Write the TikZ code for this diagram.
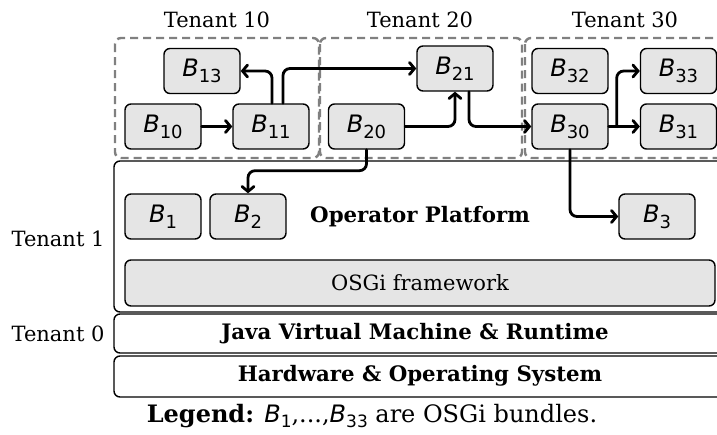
\documentclass[tikz,border=0pt]{standalone}
\usepackage{fontspec}
\setmainfont{DejaVu Serif}
\newfontfamily\bsans{DejaVu Sans}
\usetikzlibrary{arrows.meta,calc}
\newcommand{\Bn}[1]{{\bsans\itshape B}\raisebox{-0.25em}{\bsans\fontsize{18}{18}\selectfont #1}}
\newcommand{\Bl}[1]{{\bsans\itshape B}\raisebox{-0.2em}{\bsans\fontsize{17}{17}\selectfont #1}}
\begin{document}
\begin{tikzpicture}[x=1pt,y=-1pt,
  bundle/.style={draw=black,line width=1.4pt,fill=black!10,rounded corners=6pt,minimum width=76pt,minimum height=45pt,inner sep=0pt,font=\fontsize{24}{24}\selectfont},
  tenant/.style={draw=black!50,line width=2.4pt,dash pattern=on 8pt off 5pt,rounded corners=6pt},
  layer/.style={draw=black,line width=1.4pt,rounded corners=6pt},
  conn/.style={line width=2.8pt,rounded corners=7pt,-{Straight Barb[length=5pt,width=12pt,line cap=round]},line cap=round},
  lbl/.style={font=\fontsize{21}{21}\selectfont},
  blbl/.style={font=\fontsize{21.3}{21.3}\selectfont\bfseries},
  leglbl/.style={font=\fontsize{24}{24}\selectfont}]
\useasboundingbox (0,0) rectangle (717,434);
\clip (0,0) rectangle (717,434);
% tenant groups
\draw[tenant] (115,38) rectangle (319,158);
\draw[tenant] (320,38) rectangle (522,158);
\draw[tenant] (525,38) rectangle (740,158);
\node[lbl] (t10) at (217,20) {Tenant 10};
\node[lbl] (t20) at (420,20) {Tenant 20};
\node[lbl] (t30) at (625,20) {Tenant 30};
% layers
\draw[layer] (114,161) rectangle (740,312);
\draw[layer] (114,314) rectangle (740,353);
\draw[layer] (114,356) rectangle (740,397);
\node[draw=black,line width=1.4pt,fill=black!10,rounded corners=6pt,minimum width=590pt,minimum height=46pt,inner sep=0pt,lbl] (osgi) at (420,283) {OSGi framework};
\node[blbl] (op) at (420,217) {Operator Platform};
\node[blbl] (jvm) at (415,334) {Java Virtual Machine \& Runtime};
\node[blbl] (hw) at (420,376) {Hardware \& Operating System};
\node[lbl,anchor=east] (ten1) at (108,239) {Tenant 1};
\node[lbl,anchor=east] (ten0) at (108,334) {Tenant 0};
% bundles
\node[bundle] (B13) at (202,71) {\Bn{13}};
\node[bundle] (B10) at (163,126.5) {\Bn{10}};
\node[bundle] (B11) at (271,126.5) {\Bn{11}};
\node[bundle] (B20) at (366.5,126.5) {\Bn{20}};
\node[bundle] (B21) at (455,68.5) {\Bn{21}};
\node[bundle] (B32) at (570,71) {\Bn{32}};
\node[bundle] (B33) at (678.5,71) {\Bn{33}};
\node[bundle] (B30) at (570,126.5) {\Bn{30}};
\node[bundle] (B31) at (678.5,126.5) {\Bn{31}};
\node[bundle] (B3) at (657,216.5) {\Bn{3}};
\node[bundle] (B1) at (163,216.5) {\Bn{1}};
\node[bundle] (B2) at (248,216.5) {\Bn{2}};
% connectors
\draw[conn] (B10.east) -- (B11.west);
\draw[conn] ($(B11.north)+(1,0)$) |- (B13.east);
\draw[conn] ($(B11.north)+(12,0)$) |- (B21.west);
\draw[conn] (B20.east) -| (B21.south);
\draw[conn] ($(B21.south)+(14,0)$) |- (B30.west);
\draw[conn] (B30.east) -- (B31.west);
\draw[conn] ($(B30.east)+(8,0)$) |- (B33.west);
\draw[conn] (B30.south) |- (B3.west);
\draw[conn] (B20.south) -- ++(0,21) -| (B2.north);
% legend
\node[leglbl] (leg) at (372,416) {\textbf{Legend:} \Bl{1},...,\Bl{33} are OSGi bundles.};
\end{tikzpicture}
\end{document}
